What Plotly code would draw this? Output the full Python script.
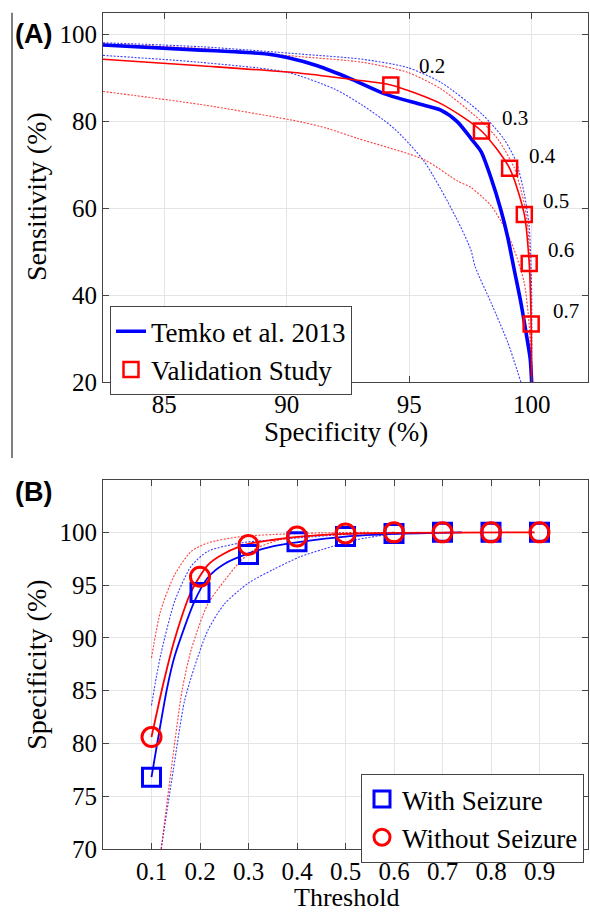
import plotly.graph_objects as go

# ---------------- Panel A data (Specificity %, Sensitivity %) ----------------
temko_spec = [82.5, 86.48, 87.84, 89.2, 90.02, 91.25, 92.61, 93.97, 95.34, 96.29, 96.97, 97.52, 97.93, 98.34, 98.75, 99.02, 99.29, 99.56, 99.77, 99.94, 100.0]
temko_sens = [97.6, 96.4, 96.05, 95.5, 94.7, 92.8, 89.8, 86.4, 84.1, 82.6, 79.9, 76.1, 73.1, 67.0, 59.5, 53.4, 45.8, 38.3, 31.4, 25.4, 20.0]

blue_up_spec = [82.5, 86.48, 90.57, 93.1, 94.93, 96.29, 97.95, 98.85, 99.36, 99.7, 99.9, 100.0, 100.0]
blue_up_sens = [98.1, 97.2, 95.5, 94.3, 92.4, 89.0, 81.8, 76.1, 70.8, 63.3, 55.7, 40.5, 20.0]
blue_lo_spec = [82.5, 86.48, 90.02, 91.93, 93.1, 94.38, 95.61, 96.9, 97.52, 97.69, 98.34, 99.02, 99.56]
blue_lo_sens = [95.2, 93.6, 91.3, 87.5, 83.7, 78.4, 70.8, 58.0, 50.4, 46.6, 38.3, 29.2, 20.0]

valid_line_spec = [82.5, 86.48, 90.57, 92.75, 94.25, 96.29, 97.95, 99.1, 99.7, 99.9, 99.98, 100.0]
valid_line_sens = [94.3, 92.8, 91.1, 89.6, 88.4, 84.1, 77.8, 69.2, 58.6, 47.3, 33.4, 20.0]
red_up_spec = [82.5, 86.48, 90.57, 93.1, 94.93, 96.29, 97.95, 98.61, 99.29, 99.7, 99.84, 99.95, 100.0]
red_up_sens = [97.8, 96.8, 94.9, 93.6, 91.3, 87.5, 80.0, 76.0, 69.3, 61.0, 55.7, 44.3, 20.0]
red_lo_spec = [82.5, 86.48, 90.57, 91.66, 92.89, 95.61, 96.97, 97.52, 98.34, 98.88, 99.29, 99.7, 99.9, 100.0]
red_lo_sens = [86.9, 83.9, 79.9, 78.4, 76.1, 71.2, 66.3, 64.8, 60.6, 55.7, 50.4, 42.8, 33.0, 20.0]

valid_thresholds = ["0.2", "0.3", "0.4", "0.5", "0.6", "0.7"]
valid_spec = [94.25, 97.95, 99.1, 99.7, 99.9, 99.98]
valid_sens = [88.4, 77.8, 69.2, 58.6, 47.3, 33.4]
label_spec = [95.94, 99.3, 100.45, 100.98, 101.2, 101.4]
label_sens = [92.7, 80.7, 72.0, 61.6, 50.5, 36.4]

# ---------------- Panel B data (Threshold, Specificity %) ----------------
thresholds = [0.1, 0.2, 0.3, 0.4, 0.5, 0.6, 0.7, 0.8, 0.9]
spec_with = [76.8, 94.3, 97.9, 99.1, 99.6, 99.9, 100.0, 100.0, 100.0]
spec_without = [80.6, 95.8, 98.8, 99.6, 99.9, 100.0, 100.0, 100.0, 100.0]

fit_with_x = [0.1, 0.132, 0.148, 0.189, 0.216, 0.25, 0.3, 0.352, 0.407, 0.5, 0.6, 0.74]
fit_with_y = [76.8, 85.2, 88.3, 93.5, 95.7, 97.0, 98.0, 98.7, 99.1, 99.6, 99.85, 100.0]
fit_without_x = [0.1, 0.125, 0.148, 0.182, 0.216, 0.25, 0.3, 0.352, 0.407, 0.5, 0.6, 0.89]
fit_without_y = [80.6, 85.8, 89.9, 94.4, 96.9, 98.0, 98.9, 99.3, 99.6, 99.85, 99.95, 100.0]

with_up_x = [0.1, 0.11, 0.12, 0.148, 0.182, 0.216, 0.284, 0.352, 0.407, 0.5, 0.6]
with_up_y = [83.6, 86.3, 88.6, 93.5, 96.8, 98.2, 99.0, 99.3, 99.5, 99.8, 100.0]
with_lo_x = [0.12, 0.145, 0.168, 0.189, 0.216, 0.25, 0.3, 0.352, 0.407, 0.454, 0.523, 0.59, 0.65]
with_lo_y = [70.0, 77.5, 84.0, 87.3, 90.7, 93.2, 95.2, 96.5, 97.7, 98.4, 99.3, 99.8, 100.0]
without_up_x = [0.1, 0.119, 0.148, 0.182, 0.216, 0.284, 0.352, 0.45, 0.55]
without_up_y = [88.1, 92.6, 96.0, 98.2, 99.0, 99.6, 99.8, 99.95, 100.0]
without_lo_x = [0.12, 0.142, 0.163, 0.182, 0.216, 0.25, 0.284, 0.317, 0.365, 0.407, 0.5, 0.6]
without_lo_y = [70.0, 78.0, 85.0, 88.9, 93.2, 95.4, 97.3, 98.5, 99.3, 99.6, 99.9, 100.0]

BLUE = "#0000FF"
RED = "#FF0000"
SERIF = "Liberation Serif, Times New Roman, serif"
SANS = "Liberation Sans, Arial, sans-serif"
W, H = 590, 921

fig = go.Figure()

def dotted(x, y, color, xa, ya):
    fig.add_trace(go.Scatter(x=x, y=y, mode="lines", xaxis=xa, yaxis=ya, showlegend=False,
                             line=dict(color=color, width=1.1, dash="2px,1.5px", shape="spline", smoothing=0.7),
                             opacity=0.75, hoverinfo="skip"))

# Panel A
dotted(blue_up_spec, blue_up_sens, BLUE, "x", "y")
dotted(blue_lo_spec, blue_lo_sens, BLUE, "x", "y")
dotted(red_up_spec, red_up_sens, RED, "x", "y")
dotted(red_lo_spec, red_lo_sens, RED, "x", "y")
fig.add_trace(go.Scatter(x=temko_spec, y=temko_sens, mode="lines", name="Temko et al. 2013",
                         line=dict(color=BLUE, width=3.6, shape="spline", smoothing=0.7),
                         xaxis="x", yaxis="y", legend="legend"))
fig.add_trace(go.Scatter(x=valid_line_spec, y=valid_line_sens, mode="lines", showlegend=False,
                         line=dict(color=RED, width=1.6, shape="spline", smoothing=0.7),
                         xaxis="x", yaxis="y"))
fig.add_trace(go.Scatter(x=valid_spec, y=valid_sens, mode="markers", name="Validation Study",
                         marker=dict(symbol="square-open", size=15, color=RED, line=dict(width=2.5, color=RED)),
                         xaxis="x", yaxis="y", legend="legend"))

# Panel B
dotted(with_up_x, with_up_y, BLUE, "x2", "y2")
dotted(with_lo_x, with_lo_y, BLUE, "x2", "y2")
dotted(without_up_x, without_up_y, RED, "x2", "y2")
dotted(without_lo_x, without_lo_y, RED, "x2", "y2")
fig.add_trace(go.Scatter(x=fit_with_x, y=fit_with_y, mode="lines", showlegend=False,
                         line=dict(color=BLUE, width=1.8, shape="spline", smoothing=0.7),
                         xaxis="x2", yaxis="y2"))
fig.add_trace(go.Scatter(x=fit_without_x, y=fit_without_y, mode="lines", showlegend=False,
                         line=dict(color=RED, width=1.8, shape="spline", smoothing=0.7),
                         xaxis="x2", yaxis="y2"))
fig.add_trace(go.Scatter(x=thresholds, y=spec_with, mode="markers", name="With Seizure",
                         marker=dict(symbol="square-open", size=18, color=BLUE, line=dict(width=3, color=BLUE)),
                         xaxis="x2", yaxis="y2", legend="legend2"))
fig.add_trace(go.Scatter(x=thresholds, y=spec_without, mode="markers", name="Without Seizure",
                         marker=dict(symbol="circle-open", size=19, color=RED, line=dict(width=3, color=RED)),
                         xaxis="x2", yaxis="y2", legend="legend2"))

# threshold labels in panel A
for t, xs, ys in zip(valid_thresholds, label_spec, label_sens):
    fig.add_annotation(x=xs, y=ys, xref="x", yref="y", text=t, showarrow=False,
                       xanchor="center", yanchor="middle",
                       font=dict(family=SERIF, size=21, color="black"))

XD = [103 / W, 588 / W]
YA = [1 - 388 / H, 1 - 13 / H]
YB = [1 - 862 / H, 1 - 487 / H]

axis_common = dict(showline=True, linecolor="#444444", linewidth=1, mirror="allticks",
                   ticks="inside", ticklen=6, tickcolor="#444444", showgrid=True,
                   gridcolor="#e4e4e4", gridwidth=1, zeroline=False,
                   tickfont=dict(family=SERIF, size=25, color="black"))

fig.update_layout(
    width=W, height=H, margin=dict(l=0, r=0, t=0, b=0),
    paper_bgcolor="white", plot_bgcolor="white", showlegend=True,
    xaxis=dict(domain=XD, range=[82.5, 102.3], tickvals=[85, 90, 95, 100], anchor="y", **axis_common),
    yaxis=dict(domain=YA, range=[20, 105], tickvals=[20, 40, 60, 80, 100], anchor="x", **axis_common),
    xaxis2=dict(domain=XD, range=[0, 1.0], tickvals=[0.1, 0.2, 0.3, 0.4, 0.5, 0.6, 0.7, 0.8, 0.9],
                ticktext=["0.1", "0.2", "0.3", "0.4", "0.5", "0.6", "0.7", "0.8", "0.9"], anchor="y2", **axis_common),
    yaxis2=dict(domain=YB, range=[70, 105], tickvals=[70, 75, 80, 85, 90, 95, 100], anchor="x2", **axis_common),
    legend=dict(x=110 / W, y=1 - 311 / H, xanchor="left", yanchor="top",
                bgcolor="white", bordercolor="#444444", borderwidth=1,
                font=dict(family=SERIF, size=27, color="black"), tracegroupgap=0),
    legend2=dict(x=584 / W, y=1 - 786 / H, xanchor="right", yanchor="top",
                 bgcolor="white", bordercolor="#444444", borderwidth=1,
                 font=dict(family=SERIF, size=27, color="black"), tracegroupgap=0),
)

def note(px, py, text, size, family=SERIF, angle=0):
    fig.add_annotation(x=px / W, y=1 - py / H, xref="paper", yref="paper", text=text,
                       textangle=angle, showarrow=False, xanchor="center", yanchor="middle",
                       font=dict(family=family, size=size, color="black"))

# axis titles
note(37, 200, "Sensitivity (%)", 28, angle=-90)
note(346, 439, "Specificity (%)", 27)
note(37, 675, "Specificity (%)", 28, angle=-90)
note(346, 911, "Threshold", 26)

# panel letters
note(33, 35, "<b>(A)</b>", 27, family=SANS)
note(33, 500, "<b>(B)</b>", 27, family=SANS)

# vertical separator line at left of panel A
fig.add_shape(type="line", xref="paper", yref="paper", x0=12 / W, x1=12 / W, y0=1 - 465 / H, y1=1 - 13 / H,
              line=dict(color="#555555", width=1.5))

fig.write_html("out.html", config={"displayModeBar": False},
               post_script="document.body.style.margin='0px';")
